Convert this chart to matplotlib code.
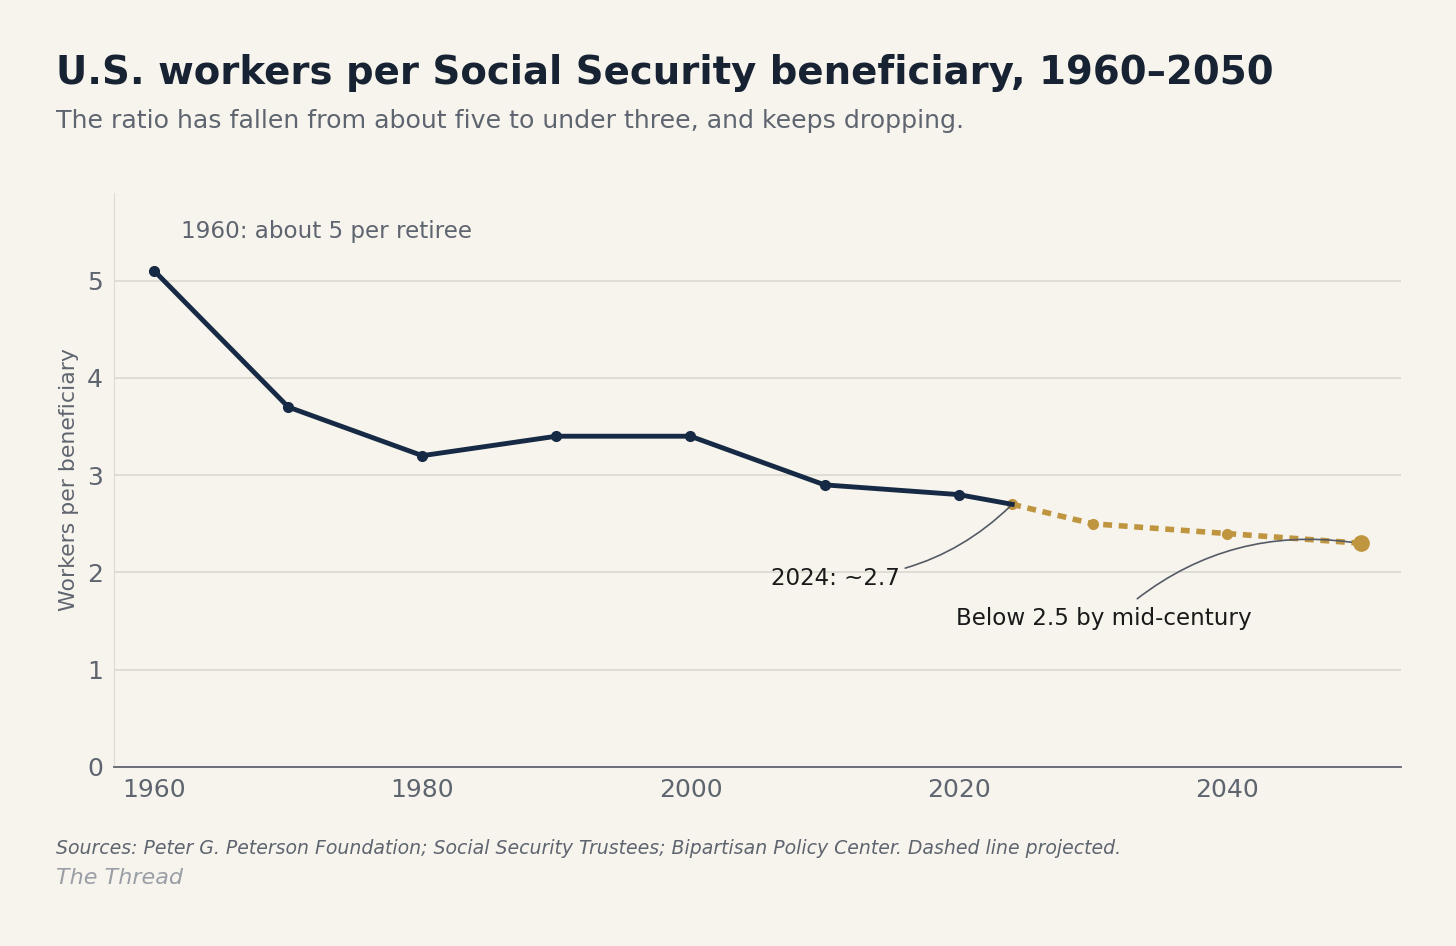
import matplotlib
matplotlib.use("Agg")
import matplotlib.pyplot as plt

years_hist = [1960, 1970, 1980, 1990, 2000, 2010, 2020, 2024]
ratio_hist = [5.1, 3.7, 3.2, 3.4, 3.4, 2.9, 2.8, 2.7]
years_proj = [2024, 2030, 2040, 2050]
ratio_proj = [2.7, 2.5, 2.4, 2.3]
x_ticks = [1960, 1980, 2000, 2020, 2040]
y_ticks = [0, 1, 2, 3, 4, 5]

BG = "#f6f4ec"
NAVY = "#172a45"
GOLD = "#c0953f"
GRAY = "#5f6570"

fig = plt.figure(figsize=(14.56, 9.46), dpi=100, facecolor=BG)
ax = fig.add_axes([114/1456, 1-767/946, (1401-114)/1456, (767-193)/946])
ax.set_facecolor(BG)

ax.plot(years_proj, ratio_proj, color=GOLD, lw=4, dashes=[1.6, 1.2],
        marker="o", markersize=7, zorder=3, dash_capstyle="butt")
ax.plot(years_proj[-1:], ratio_proj[-1:], "o", color=GOLD, markersize=11, zorder=4)
ax.plot(years_hist, ratio_hist, color=NAVY, lw=3.5, marker="o", markersize=7, zorder=5,
        markevery=list(range(len(years_hist) - 1)))

ax.set_xlim(1957, 2053)
ax.set_ylim(0, 5.9)
ax.set_xticks(x_ticks)
ax.set_yticks(y_ticks)
ax.tick_params(length=0, labelsize=18, labelcolor=GRAY, pad=8)
ax.grid(axis="y", color="#dddad2", lw=1.3)
ax.set_axisbelow(True)
for s in ["top", "right"]:
    ax.spines[s].set_visible(False)
ax.spines["left"].set_color("#dddad2")
ax.spines["bottom"].set_color("#5f6570")
ax.spines["bottom"].set_linewidth(1.3)
ax.set_ylabel("Workers per beneficiary", fontsize=15.8, color=GRAY, labelpad=6)

ax.text(1962, 5.50, "1960: about 5 per retiree", fontsize=16.6, color=GRAY, va="center", ha="left")
ax.annotate("2024: ~2.7", xy=(2024, 2.7), xytext=(2006, 1.94), fontsize=16.6, color="#1a1a1a",
            va="center", ha="left",
            arrowprops=dict(arrowstyle="-", color="#555b66", lw=1.2,
                            connectionstyle="arc3,rad=0.2", shrinkA=2, shrinkB=2))
ax.annotate("Below 2.5 by mid-century", xy=(2049.3, 2.31), xytext=(2019.8, 1.53), fontsize=16.6,
            color="#1a1a1a", va="center", ha="left",
            arrowprops=dict(arrowstyle="-", color="#555b66", lw=1.2,
                            connectionstyle="arc3,rad=-0.22", shrinkA=6, shrinkB=0,
                            relpos=(0.58, 1.0)))

fig.text(56/1456, 1-73/946, "U.S. workers per Social Security beneficiary, 1960–2050",
         fontsize=27.8, fontweight="bold", color="#172233", va="center", ha="left")
fig.text(56/1456, 1-121/946, "The ratio has fallen from about five to under three, and keeps dropping.",
         fontsize=18.2, color=GRAY, va="center", ha="left")
fig.text(56/1456, 1-848/946,
         "Sources: Peter G. Peterson Foundation; Social Security Trustees; Bipartisan Policy Center. Dashed line projected.",
         fontsize=13.6, style="italic", color=GRAY, va="center", ha="left")
fig.text(56/1456, 1-878/946, "The Thread", fontsize=16, style="italic",
         color="#9a9ea6", va="center", ha="left")

fig.savefig("out.png", dpi=100, facecolor=BG)
